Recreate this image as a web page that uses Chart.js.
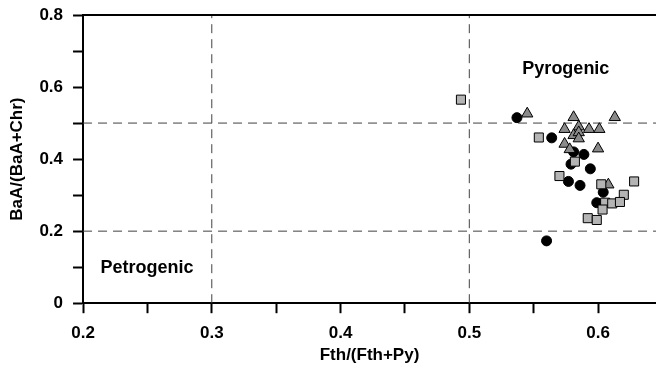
<!DOCTYPE html>
<html>
<head>
<meta charset="utf-8">
<script src="https://cdn.jsdelivr.net/npm/chart.js@4"></script>
<style>
  html, body { margin: 0; padding: 0; background: #fff; }
</style>
</head>
<body>
<canvas id="myChart" width="656" height="370"></canvas>
<script>
// sample groups: Fth/(Fth+Py) vs BaA/(BaA+Chr)
const circleX = [0.537, 0.564, 0.581, 0.589, 0.579, 0.594, 0.577, 0.586, 0.604, 0.599, 0.560];
const circleY = [0.515, 0.459, 0.420, 0.413, 0.386, 0.373, 0.338, 0.327, 0.308, 0.279, 0.173];

const triangleX = [0.545, 0.581, 0.613, 0.574, 0.585, 0.593, 0.601, 0.581, 0.585, 0.585, 0.574, 0.578, 0.600, 0.608];
const triangleY = [0.526, 0.516, 0.516, 0.483, 0.490, 0.483, 0.483, 0.466, 0.474, 0.457, 0.442, 0.427, 0.429, 0.329];

const squareX = [0.4935, 0.554, 0.582, 0.570, 0.6025, 0.628, 0.620, 0.6055, 0.611, 0.617, 0.6035, 0.592, 0.599];
const squareY = [0.565, 0.460, 0.393, 0.353, 0.330, 0.338, 0.301, 0.279, 0.277, 0.281, 0.260, 0.236, 0.231];

// axis ticks (minor ticks carry an empty label)
const xTicks = [0.2, 0.25, 0.3, 0.35, 0.4, 0.45, 0.5, 0.55, 0.6];
const xTickLabels = ['0.2', '', '0.3', '', '0.4', '', '0.5', '', '0.6'];
const yTicks = [0, 0.1, 0.2, 0.3, 0.4, 0.5, 0.6, 0.7, 0.8];
const yTickLabels = ['0', '', '0.2', '', '0.4', '', '0.6', '', '0.8'];

// source cut-offs
const cutX = [0.3, 0.5];
const cutY = [0.2, 0.5];
const regions = [
    { text: 'Pyrogenic', x: 0.575, y: 0.649 },
    { text: 'Petrogenic', x: 0.2497, y: 0.098 },
];

const zip = (xs, ys) => xs.map((v, i) => ({ x: v, y: ys[i] }));

const FONT = '"Liberation Sans", Arial, sans-serif';

const guides = {
    id: 'guides',
    beforeDatasetsDraw(chart) {
        const { ctx, chartArea: a, scales: { x, y } } = chart;
        ctx.save();
        ctx.strokeStyle = '#404040';
        ctx.lineWidth = 1;
        ctx.setLineDash([9, 6]);
        cutX.forEach(v => {
            const px = x.getPixelForValue(v);
            ctx.beginPath();
            ctx.moveTo(px, a.bottom);
            ctx.lineTo(px, a.top);
            ctx.stroke();
        });
        cutY.forEach(v => {
            const py = y.getPixelForValue(v);
            ctx.beginPath();
            ctx.moveTo(a.left, py);
            ctx.lineTo(a.right, py);
            ctx.stroke();
        });
        ctx.setLineDash([]);

        // top frame line
        ctx.strokeStyle = '#000';
        ctx.lineWidth = 2;
        ctx.beginPath();
        ctx.moveTo(a.left, a.top);
        ctx.lineTo(a.right, a.top);
        ctx.stroke();

        ctx.fillStyle = '#000';
        ctx.font = 'bold 18px ' + FONT;
        ctx.textAlign = 'center';
        ctx.textBaseline = 'middle';
        regions.forEach(r => {
            ctx.fillText(r.text, x.getPixelForValue(r.x), y.getPixelForValue(r.y));
        });
        ctx.restore();
    }
};

const data = {
    datasets: [
        {
            label: 'squares',
            data: zip(squareX, squareY),
            pointStyle: 'rect',
            pointRadius: 6.4,
            backgroundColor: '#b4b4b4',
            borderColor: '#000',
            borderWidth: 1,
        },
        {
            label: 'triangles',
            data: zip(triangleX, triangleY),
            pointStyle: 'triangle',
            pointRadius: 6.5,
            backgroundColor: '#8a8a8a',
            borderColor: '#000',
            borderWidth: 1,
        },
        {
            label: 'circles',
            data: zip(circleX, circleY),
            pointStyle: 'circle',
            pointRadius: 5,
            backgroundColor: '#000',
            borderColor: '#000',
            borderWidth: 1,
        },
    ]
};

const tickFont = { family: FONT, size: 17, weight: 'bold' };

const config = {
    type: 'scatter',
    data: data,
    options: {
        responsive: false,
        animation: false,
        layout: { autoPadding: false, padding: { top: 15, right: 0, bottom: 4, left: 7 } },
        plugins: { legend: { display: false }, tooltip: { enabled: false } },
        scales: {
            x: {
                type: 'linear',
                min: 0.2,
                max: 0.645,
                afterBuildTicks: s => { s.ticks = xTicks.map(v => ({ value: v })); },
                // tick padding is counted twice by fit(); take one back
                afterFit: s => { s.height -= 10; s.paddingLeft = 0; s.paddingRight = 0; },
                ticks: {
                    callback: (v, i) => xTickLabels[i],
                    font: tickFont,
                    color: '#000',
                    padding: 10,
                    maxRotation: 0,
                    autoSkip: false,
                },
                grid: { drawOnChartArea: false, tickLength: 10, tickWidth: 2, tickColor: '#000' },
                border: { color: '#000', width: 2 },
                title: {
                    display: true,
                    text: 'Fth/(Fth+Py)',
                    font: tickFont,
                    color: '#000',
                    padding: { top: 2, bottom: 0 },
                },
            },
            y: {
                type: 'linear',
                min: 0,
                max: 0.8,
                afterBuildTicks: s => { s.ticks = yTicks.map(v => ({ value: v })); },
                afterFit: s => { s.width -= 10; s.paddingTop = 0; s.paddingBottom = 0; },
                ticks: {
                    callback: (v, i) => yTickLabels[i],
                    font: tickFont,
                    color: '#000',
                    padding: 10,
                    autoSkip: false,
                },
                grid: { drawOnChartArea: false, tickLength: 10, tickWidth: 2, tickColor: '#000' },
                border: { color: '#000', width: 2 },
                title: {
                    display: true,
                    text: 'BaA/(BaA+Chr)',
                    font: tickFont,
                    color: '#000',
                    padding: { top: 0, bottom: 12 },
                },
            },
        },
    },
    plugins: [guides],
};

const myChart = new Chart(document.getElementById('myChart'), config);
</script>
</body>
</html>
